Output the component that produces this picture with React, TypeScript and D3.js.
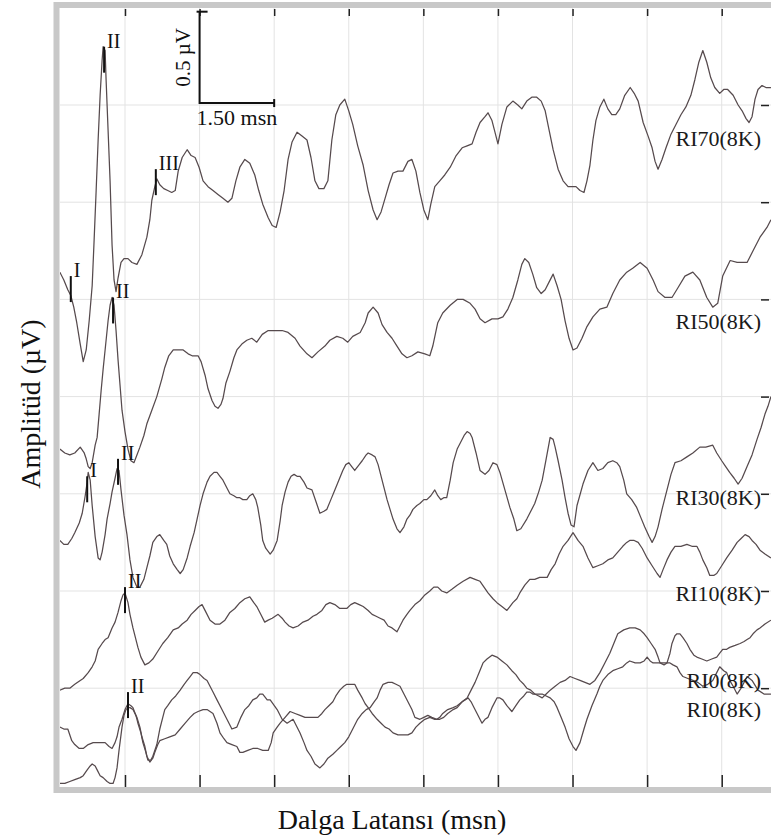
import React, { useEffect, useRef } from 'react'
import * as d3 from 'd3'

type Pt = [number, number] // [latency ms, amplitude µV]

// waveforms, stacked amplitude (µV)
const ri70: Pt[] = [
  [0.19, 2.64], [0.27, 2.6], [0.35, 2.55], [0.41, 2.52], [0.47, 2.46], [0.53, 2.38], [0.6, 2.27], [0.66, 2.18],
  [0.72, 2.24], [0.78, 2.39], [0.84, 2.57], [0.88, 2.81], [0.92, 3.06], [0.96, 3.32], [1.0, 3.55], [1.04, 3.73],
  [1.06, 3.8], [1.1, 3.78], [1.12, 3.63], [1.16, 3.37], [1.2, 3.11], [1.24, 2.78], [1.28, 2.6], [1.32, 2.54],
  [1.36, 2.61], [1.42, 2.69], [1.48, 2.71], [1.56, 2.71], [1.64, 2.69], [1.74, 2.68], [1.84, 2.73], [1.94, 2.82],
  [2.0, 2.91], [2.04, 3.01], [2.1, 3.08], [2.14, 3.12], [2.2, 3.09], [2.28, 3.07], [2.36, 3.06], [2.44, 3.05],
  [2.51, 3.06], [2.57, 3.16], [2.65, 3.23], [2.75, 3.27], [2.83, 3.24], [2.91, 3.23], [2.99, 3.18], [3.07, 3.11],
  [3.17, 3.08], [3.27, 3.06], [3.37, 3.04], [3.47, 3.02], [3.57, 3.0], [3.65, 3.02], [3.73, 3.11], [3.81, 3.18],
  [3.91, 3.22], [4.01, 3.2], [4.11, 3.14], [4.19, 3.06], [4.27, 2.99], [4.38, 2.92], [4.46, 2.88], [4.54, 2.87],
  [4.62, 2.95], [4.7, 3.06], [4.78, 3.22], [4.86, 3.31], [4.96, 3.36], [5.06, 3.34], [5.16, 3.32], [5.24, 3.23],
  [5.32, 3.11], [5.4, 3.07], [5.5, 3.07], [5.58, 3.11], [5.66, 3.32], [5.74, 3.45], [5.82, 3.5], [5.92, 3.53],
  [6.0, 3.47], [6.08, 3.4], [6.18, 3.29], [6.29, 3.19], [6.39, 3.06], [6.49, 2.96], [6.57, 2.91], [6.65, 2.95],
  [6.73, 3.02], [6.81, 3.09], [6.89, 3.15], [6.99, 3.16], [7.09, 3.16], [7.19, 3.21], [7.27, 3.22], [7.35, 3.16],
  [7.43, 3.05], [7.51, 2.96], [7.59, 2.91], [7.65, 2.99], [7.73, 3.08], [7.83, 3.11], [7.93, 3.14], [8.04, 3.18],
  [8.16, 3.24], [8.28, 3.28], [8.38, 3.29], [8.48, 3.3], [8.56, 3.36], [8.64, 3.41], [8.74, 3.44], [8.8, 3.46],
  [8.88, 3.42], [8.94, 3.36], [9.0, 3.3], [9.08, 3.4], [9.18, 3.49], [9.3, 3.52], [9.4, 3.5], [9.48, 3.48],
  [9.58, 3.52], [9.68, 3.54], [9.78, 3.54], [9.87, 3.52], [9.95, 3.47], [10.03, 3.37], [10.11, 3.27], [10.21, 3.17],
  [10.31, 3.11], [10.41, 3.08], [10.49, 3.08], [10.57, 3.08], [10.65, 3.06], [10.73, 3.05], [10.79, 3.11], [10.85, 3.19],
  [10.91, 3.32], [10.97, 3.42], [11.05, 3.49], [11.13, 3.53], [11.21, 3.48], [11.29, 3.45], [11.37, 3.45], [11.45, 3.48],
  [11.55, 3.55], [11.66, 3.59], [11.74, 3.56], [11.82, 3.52], [11.92, 3.41], [12.02, 3.34], [12.1, 3.28], [12.16, 3.21],
  [12.22, 3.17], [12.3, 3.22], [12.38, 3.28], [12.48, 3.35], [12.58, 3.4], [12.68, 3.45], [12.78, 3.49], [12.88, 3.55],
  [12.96, 3.63], [13.04, 3.72], [13.12, 3.78], [13.2, 3.72], [13.28, 3.64], [13.36, 3.59], [13.46, 3.56], [13.54, 3.58],
  [13.62, 3.58], [13.73, 3.55], [13.83, 3.5], [13.91, 3.47], [13.99, 3.43], [14.05, 3.41], [14.11, 3.44], [14.17, 3.53],
  [14.23, 3.58], [14.31, 3.6], [14.39, 3.59], [14.49, 3.59],
]

const ri50: Pt[] = [
  [0.19, 1.73], [0.29, 1.71], [0.39, 1.7], [0.49, 1.71], [0.6, 1.74], [0.68, 1.71], [0.72, 1.68], [0.76, 1.64],
  [0.8, 1.63], [0.84, 1.66], [0.9, 1.75], [0.94, 1.79], [0.98, 1.91], [1.02, 2.03], [1.06, 2.14], [1.1, 2.24],
  [1.16, 2.39], [1.2, 2.47], [1.24, 2.51], [1.28, 2.47], [1.32, 2.34], [1.36, 2.19], [1.4, 2.06], [1.44, 1.93],
  [1.5, 1.82], [1.56, 1.73], [1.62, 1.67], [1.68, 1.66], [1.74, 1.7], [1.8, 1.74], [1.88, 1.8], [1.94, 1.86],
  [2.04, 1.93], [2.14, 2.0], [2.24, 2.09], [2.3, 2.15], [2.38, 2.21], [2.47, 2.24], [2.57, 2.24], [2.67, 2.24],
  [2.77, 2.22], [2.85, 2.21], [2.97, 2.21], [3.03, 2.18], [3.11, 2.11], [3.17, 2.04], [3.25, 1.98], [3.31, 1.95],
  [3.37, 1.94], [3.43, 1.96], [3.47, 1.99], [3.53, 2.07], [3.61, 2.13], [3.69, 2.2], [3.75, 2.24], [3.85, 2.27],
  [3.95, 2.29], [4.05, 2.3], [4.15, 2.28], [4.26, 2.32], [4.38, 2.34], [4.52, 2.34], [4.66, 2.34], [4.78, 2.33],
  [4.92, 2.3], [5.02, 2.26], [5.16, 2.22], [5.26, 2.2], [5.38, 2.23], [5.52, 2.26], [5.62, 2.29], [5.76, 2.31],
  [5.88, 2.3], [5.98, 2.28], [6.08, 2.31], [6.23, 2.33], [6.33, 2.38], [6.39, 2.43], [6.49, 2.46], [6.59, 2.43],
  [6.67, 2.37], [6.77, 2.33], [6.87, 2.3], [6.97, 2.26], [7.07, 2.22], [7.17, 2.2], [7.27, 2.21], [7.39, 2.23],
  [7.53, 2.22], [7.63, 2.21], [7.69, 2.26], [7.79, 2.38], [7.89, 2.43], [8.04, 2.47], [8.18, 2.5], [8.3, 2.5],
  [8.44, 2.48], [8.54, 2.45], [8.64, 2.4], [8.74, 2.38], [8.88, 2.4], [9.0, 2.4], [9.1, 2.41], [9.2, 2.45],
  [9.3, 2.51], [9.4, 2.6], [9.48, 2.68], [9.54, 2.71], [9.62, 2.69], [9.7, 2.63], [9.78, 2.56], [9.87, 2.53],
  [9.95, 2.55], [10.03, 2.59], [10.11, 2.63], [10.19, 2.57], [10.27, 2.5], [10.35, 2.39], [10.43, 2.3], [10.51, 2.24],
  [10.59, 2.25], [10.69, 2.3], [10.79, 2.36], [10.91, 2.41], [11.05, 2.45], [11.19, 2.46], [11.31, 2.53], [11.45, 2.6],
  [11.59, 2.64], [11.71, 2.66], [11.86, 2.69], [12.0, 2.66], [12.12, 2.6], [12.22, 2.54], [12.36, 2.51], [12.5, 2.51],
  [12.62, 2.56], [12.76, 2.62], [12.92, 2.64], [13.06, 2.6], [13.2, 2.51], [13.32, 2.46], [13.42, 2.48], [13.52, 2.62],
  [13.67, 2.7], [13.81, 2.69], [14.01, 2.69], [14.13, 2.75], [14.27, 2.82], [14.41, 2.87], [14.49, 2.91],
]

const ri30: Pt[] = [
  [0.19, 1.26], [0.27, 1.24], [0.35, 1.24], [0.43, 1.27], [0.49, 1.3], [0.58, 1.35], [0.64, 1.4], [0.7, 1.49],
  [0.74, 1.56], [0.76, 1.61], [0.8, 1.57], [0.84, 1.44], [0.9, 1.28], [0.96, 1.17], [1.0, 1.16], [1.04, 1.2],
  [1.1, 1.29], [1.14, 1.37], [1.2, 1.45], [1.24, 1.51], [1.3, 1.58], [1.34, 1.63], [1.38, 1.62], [1.42, 1.52],
  [1.48, 1.39], [1.54, 1.29], [1.6, 1.16], [1.66, 1.07], [1.74, 1.02], [1.8, 1.02], [1.88, 1.06], [1.94, 1.12],
  [2.0, 1.18], [2.06, 1.25], [2.14, 1.28], [2.2, 1.29], [2.28, 1.26], [2.34, 1.24], [2.4, 1.18], [2.47, 1.14],
  [2.55, 1.11], [2.61, 1.09], [2.67, 1.11], [2.75, 1.17], [2.81, 1.23], [2.89, 1.3], [2.95, 1.37], [3.01, 1.44],
  [3.07, 1.5], [3.15, 1.56], [3.21, 1.59], [3.29, 1.61], [3.35, 1.61], [3.41, 1.59], [3.47, 1.57], [3.55, 1.53],
  [3.61, 1.5], [3.69, 1.49], [3.75, 1.48], [3.81, 1.48], [3.87, 1.47], [3.95, 1.47], [4.01, 1.49], [4.07, 1.5],
  [4.13, 1.47], [4.17, 1.43], [4.23, 1.34], [4.27, 1.26], [4.33, 1.22], [4.42, 1.19], [4.48, 1.21], [4.56, 1.26],
  [4.62, 1.36], [4.66, 1.44], [4.72, 1.51], [4.78, 1.56], [4.84, 1.59], [4.9, 1.6], [4.96, 1.59], [5.02, 1.59],
  [5.1, 1.56], [5.16, 1.53], [5.26, 1.52], [5.34, 1.46], [5.42, 1.4], [5.5, 1.41], [5.56, 1.42], [5.64, 1.47],
  [5.72, 1.52], [5.8, 1.57], [5.88, 1.62], [5.94, 1.65], [6.0, 1.66], [6.06, 1.64], [6.12, 1.62], [6.21, 1.65],
  [6.27, 1.67], [6.35, 1.7], [6.39, 1.71], [6.47, 1.7], [6.53, 1.69], [6.59, 1.65], [6.63, 1.61], [6.71, 1.53],
  [6.77, 1.47], [6.83, 1.42], [6.89, 1.37], [6.97, 1.32], [7.03, 1.3], [7.11, 1.33], [7.17, 1.37], [7.23, 1.39],
  [7.29, 1.42], [7.37, 1.44], [7.43, 1.45], [7.51, 1.47], [7.57, 1.47], [7.65, 1.49], [7.73, 1.52], [7.79, 1.49],
  [7.85, 1.47], [7.91, 1.48], [7.97, 1.48], [8.04, 1.57], [8.1, 1.66], [8.18, 1.73], [8.24, 1.76], [8.32, 1.8],
  [8.38, 1.82], [8.44, 1.81], [8.48, 1.79], [8.56, 1.71], [8.64, 1.62], [8.74, 1.6], [8.82, 1.62], [8.9, 1.66],
  [8.98, 1.65], [9.04, 1.61], [9.14, 1.52], [9.24, 1.43], [9.32, 1.37], [9.38, 1.31], [9.46, 1.32], [9.58, 1.37],
  [9.66, 1.41], [9.74, 1.45], [9.82, 1.51], [9.89, 1.57], [9.97, 1.68], [10.05, 1.79], [10.11, 1.78], [10.15, 1.74],
  [10.21, 1.67], [10.29, 1.57], [10.35, 1.48], [10.41, 1.4], [10.47, 1.34], [10.53, 1.33], [10.59, 1.44], [10.71, 1.55],
  [10.81, 1.62], [10.91, 1.66], [11.01, 1.62], [11.11, 1.63], [11.21, 1.66], [11.31, 1.67], [11.39, 1.66], [11.45, 1.64],
  [11.53, 1.57], [11.59, 1.5], [11.69, 1.47], [11.79, 1.43], [11.87, 1.38], [11.95, 1.33], [12.04, 1.28], [12.1, 1.25],
  [12.16, 1.28], [12.22, 1.33], [12.3, 1.42], [12.4, 1.52], [12.48, 1.6], [12.56, 1.66], [12.68, 1.67], [12.8, 1.69],
  [12.92, 1.71], [13.06, 1.74], [13.18, 1.74], [13.32, 1.75], [13.4, 1.71], [13.5, 1.67], [13.58, 1.64], [13.66, 1.61],
  [13.75, 1.58], [13.83, 1.55], [13.91, 1.58], [14.01, 1.64], [14.11, 1.7], [14.21, 1.78], [14.29, 1.84], [14.37, 1.91],
  [14.43, 1.95], [14.49, 2.0],
]

const ri10: Pt[] = [
  [0.19, 0.49], [0.29, 0.5], [0.39, 0.5], [0.49, 0.52], [0.6, 0.54], [0.66, 0.55], [0.76, 0.58], [0.84, 0.61],
  [0.9, 0.64], [0.96, 0.7], [1.04, 0.73], [1.1, 0.75], [1.16, 0.76], [1.24, 0.81], [1.3, 0.84], [1.36, 0.89],
  [1.42, 0.95], [1.46, 0.98], [1.5, 0.99], [1.56, 0.94], [1.6, 0.88], [1.66, 0.81], [1.72, 0.75], [1.76, 0.71],
  [1.82, 0.66], [1.9, 0.62], [1.98, 0.63], [2.06, 0.65], [2.16, 0.69], [2.26, 0.73], [2.36, 0.76], [2.47, 0.8],
  [2.57, 0.81], [2.65, 0.83], [2.75, 0.85], [2.83, 0.88], [2.91, 0.9], [2.99, 0.92], [3.05, 0.93], [3.13, 0.89],
  [3.21, 0.85], [3.31, 0.83], [3.41, 0.83], [3.51, 0.85], [3.61, 0.89], [3.71, 0.91], [3.81, 0.94], [3.91, 0.96],
  [4.01, 0.97], [4.09, 0.94], [4.15, 0.92], [4.23, 0.88], [4.31, 0.84], [4.38, 0.85], [4.46, 0.86], [4.58, 0.88],
  [4.66, 0.86], [4.72, 0.84], [4.8, 0.82], [4.88, 0.81], [4.98, 0.82], [5.08, 0.84], [5.18, 0.85], [5.28, 0.87],
  [5.36, 0.88], [5.46, 0.9], [5.54, 0.93], [5.62, 0.94], [5.72, 0.93], [5.82, 0.91], [5.96, 0.91], [6.04, 0.93],
  [6.12, 0.94], [6.21, 0.93], [6.29, 0.92], [6.39, 0.9], [6.47, 0.88], [6.55, 0.87], [6.63, 0.86], [6.71, 0.85],
  [6.79, 0.82], [6.87, 0.81], [6.97, 0.79], [7.03, 0.82], [7.09, 0.85], [7.17, 0.88], [7.23, 0.9], [7.33, 0.93],
  [7.43, 0.95], [7.53, 0.98], [7.63, 1.0], [7.71, 1.02], [7.79, 1.02], [7.87, 1.0], [7.97, 0.99], [8.08, 1.01],
  [8.18, 1.03], [8.3, 1.05], [8.44, 1.07], [8.54, 1.06], [8.64, 1.05], [8.72, 1.02], [8.8, 0.99], [8.9, 0.96],
  [8.98, 0.94], [9.08, 0.92], [9.18, 0.9], [9.24, 0.92], [9.3, 0.94], [9.38, 0.96], [9.44, 0.99], [9.54, 1.03],
  [9.64, 1.06], [9.74, 1.06], [9.84, 1.07], [9.99, 1.07], [10.07, 1.11], [10.15, 1.14], [10.23, 1.19], [10.31, 1.23],
  [10.41, 1.26], [10.51, 1.3], [10.61, 1.26], [10.71, 1.23], [10.81, 1.17], [10.91, 1.12], [11.01, 1.13], [11.11, 1.14],
  [11.21, 1.16], [11.31, 1.17], [11.41, 1.2], [11.51, 1.23], [11.59, 1.25], [11.65, 1.26], [11.74, 1.26], [11.82, 1.25],
  [11.9, 1.22], [12.0, 1.17], [12.1, 1.13], [12.2, 1.09], [12.26, 1.07], [12.32, 1.11], [12.4, 1.16], [12.48, 1.2],
  [12.56, 1.23], [12.68, 1.23], [12.8, 1.24], [12.9, 1.23], [13.0, 1.23], [13.06, 1.2], [13.12, 1.16], [13.2, 1.12],
  [13.26, 1.08], [13.34, 1.08], [13.4, 1.09], [13.5, 1.13], [13.6, 1.17], [13.71, 1.21], [13.81, 1.25], [13.89, 1.27],
  [13.97, 1.29], [14.05, 1.28], [14.11, 1.26], [14.19, 1.24], [14.27, 1.21], [14.37, 1.19], [14.49, 1.17],
]

const ri0a: Pt[] = [
  [0.19, 0.3], [0.27, 0.29], [0.35, 0.29], [0.43, 0.23], [0.49, 0.21], [0.58, 0.19], [0.66, 0.19], [0.76, 0.21],
  [0.86, 0.22], [0.94, 0.22], [1.0, 0.22], [1.1, 0.22], [1.18, 0.2], [1.24, 0.19], [1.3, 0.22], [1.34, 0.25],
  [1.38, 0.3], [1.44, 0.34], [1.5, 0.39], [1.56, 0.42], [1.62, 0.41], [1.66, 0.4], [1.72, 0.36], [1.76, 0.32],
  [1.82, 0.27], [1.86, 0.22], [1.92, 0.17], [1.96, 0.13], [2.02, 0.13], [2.06, 0.15], [2.14, 0.21], [2.2, 0.29],
  [2.26, 0.35], [2.3, 0.39], [2.36, 0.41], [2.44, 0.44], [2.52, 0.46], [2.61, 0.49], [2.69, 0.52], [2.75, 0.54],
  [2.81, 0.56], [2.87, 0.58], [2.95, 0.58], [3.01, 0.57], [3.09, 0.55], [3.15, 0.54], [3.21, 0.51], [3.27, 0.48],
  [3.35, 0.44], [3.45, 0.39], [3.55, 0.34], [3.65, 0.29], [3.75, 0.3], [3.83, 0.35], [3.91, 0.39], [3.99, 0.41],
  [4.07, 0.44], [4.15, 0.45], [4.21, 0.47], [4.27, 0.47], [4.36, 0.44], [4.42, 0.44], [4.56, 0.39], [4.66, 0.34],
  [4.76, 0.32], [4.88, 0.34], [5.02, 0.27], [5.1, 0.22], [5.16, 0.18], [5.24, 0.15], [5.32, 0.11], [5.42, 0.09],
  [5.5, 0.11], [5.58, 0.14], [5.68, 0.16], [5.76, 0.18], [5.84, 0.2], [5.92, 0.22], [6.0, 0.25], [6.08, 0.29],
  [6.18, 0.34], [6.27, 0.37], [6.35, 0.39], [6.43, 0.4], [6.51, 0.43], [6.57, 0.45], [6.63, 0.49], [6.69, 0.52],
  [6.79, 0.53], [6.87, 0.53], [6.95, 0.52], [7.03, 0.51], [7.11, 0.47], [7.19, 0.43], [7.27, 0.39], [7.33, 0.35],
  [7.43, 0.34], [7.51, 0.35], [7.59, 0.36], [7.67, 0.35], [7.77, 0.34], [7.83, 0.35], [7.89, 0.37], [7.99, 0.39],
  [8.1, 0.4], [8.18, 0.41], [8.28, 0.43], [8.34, 0.44], [8.4, 0.45], [8.46, 0.43], [8.5, 0.41], [8.58, 0.37],
  [8.68, 0.32], [8.74, 0.34], [8.8, 0.35], [8.88, 0.4], [8.98, 0.45], [9.04, 0.45], [9.1, 0.44], [9.18, 0.41],
  [9.28, 0.38], [9.36, 0.41], [9.44, 0.44], [9.52, 0.46], [9.58, 0.48], [9.64, 0.48], [9.7, 0.47], [9.8, 0.47],
  [9.89, 0.47], [9.97, 0.46], [10.05, 0.45], [10.13, 0.43], [10.19, 0.4], [10.27, 0.35], [10.35, 0.3], [10.43, 0.24],
  [10.51, 0.2], [10.57, 0.18], [10.65, 0.22], [10.73, 0.29], [10.79, 0.34], [10.89, 0.41], [10.99, 0.47], [11.05, 0.51],
  [11.11, 0.54], [11.21, 0.57], [11.31, 0.59], [11.41, 0.6], [11.51, 0.61], [11.59, 0.63], [11.65, 0.64], [11.76, 0.63],
  [11.86, 0.63], [11.94, 0.64], [12.0, 0.66], [12.06, 0.64], [12.12, 0.63], [12.2, 0.63], [12.26, 0.63], [12.36, 0.63],
  [12.46, 0.63], [12.52, 0.62], [12.6, 0.61], [12.66, 0.58], [12.72, 0.56], [12.82, 0.55], [12.92, 0.54], [13.02, 0.53],
  [13.12, 0.51], [13.22, 0.52], [13.32, 0.54], [13.4, 0.58], [13.46, 0.61], [13.54, 0.59], [13.6, 0.58], [13.66, 0.54],
  [13.73, 0.51], [13.81, 0.47], [13.89, 0.5], [14.01, 0.56], [14.11, 0.54], [14.23, 0.49], [14.35, 0.47], [14.49, 0.47],
]

const ri0b: Pt[] = [
  [0.19, 0.01], [0.29, 0.01], [0.39, 0.02], [0.49, 0.03], [0.6, 0.04], [0.66, 0.05], [0.74, 0.08], [0.8, 0.1],
  [0.84, 0.11], [0.9, 0.1], [0.94, 0.08], [1.0, 0.05], [1.06, 0.04], [1.14, 0.02], [1.2, 0.01], [1.26, 0.01],
  [1.3, 0.04], [1.34, 0.09], [1.38, 0.18], [1.42, 0.26], [1.44, 0.3], [1.48, 0.36], [1.52, 0.39], [1.56, 0.4],
  [1.6, 0.4], [1.66, 0.39], [1.74, 0.35], [1.8, 0.3], [1.84, 0.25], [1.9, 0.2], [1.94, 0.15], [2.0, 0.12],
  [2.06, 0.14], [2.1, 0.17], [2.16, 0.21], [2.2, 0.23], [2.3, 0.24], [2.4, 0.25], [2.51, 0.26], [2.61, 0.29],
  [2.71, 0.32], [2.81, 0.35], [2.89, 0.37], [2.97, 0.38], [3.07, 0.39], [3.15, 0.39], [3.21, 0.38], [3.27, 0.37],
  [3.35, 0.32], [3.41, 0.27], [3.49, 0.24], [3.55, 0.22], [3.65, 0.21], [3.75, 0.2], [3.81, 0.17], [3.87, 0.17],
  [3.97, 0.18], [4.07, 0.19], [4.17, 0.19], [4.27, 0.18], [4.38, 0.18], [4.44, 0.22], [4.48, 0.27], [4.56, 0.3],
  [4.62, 0.32], [4.72, 0.35], [4.82, 0.38], [4.92, 0.37], [5.02, 0.36], [5.12, 0.35], [5.22, 0.35], [5.38, 0.35],
  [5.46, 0.37], [5.52, 0.39], [5.6, 0.41], [5.68, 0.43], [5.74, 0.46], [5.82, 0.49], [5.9, 0.51], [5.96, 0.52],
  [6.04, 0.52], [6.12, 0.52], [6.18, 0.49], [6.27, 0.45], [6.33, 0.42], [6.39, 0.4], [6.47, 0.37], [6.57, 0.34],
  [6.65, 0.32], [6.73, 0.3], [6.81, 0.29], [6.89, 0.27], [6.99, 0.26], [7.09, 0.26], [7.19, 0.26], [7.27, 0.27],
  [7.35, 0.3], [7.43, 0.32], [7.53, 0.34], [7.63, 0.35], [7.73, 0.34], [7.83, 0.34], [7.91, 0.35], [7.99, 0.37],
  [8.1, 0.39], [8.18, 0.4], [8.28, 0.43], [8.38, 0.45], [8.46, 0.49], [8.54, 0.53], [8.62, 0.58], [8.7, 0.63],
  [8.78, 0.65], [8.88, 0.67], [8.98, 0.66], [9.08, 0.64], [9.18, 0.62], [9.28, 0.59], [9.36, 0.57], [9.44, 0.54],
  [9.52, 0.52], [9.58, 0.5], [9.66, 0.49], [9.74, 0.47], [9.82, 0.46], [9.89, 0.45], [9.97, 0.47], [10.05, 0.49],
  [10.15, 0.51], [10.25, 0.53], [10.35, 0.54], [10.45, 0.56], [10.55, 0.55], [10.65, 0.54], [10.75, 0.53], [10.85, 0.52],
  [10.95, 0.54], [11.05, 0.58], [11.15, 0.63], [11.25, 0.68], [11.33, 0.73], [11.41, 0.78], [11.53, 0.8], [11.65, 0.81],
  [11.76, 0.81], [11.86, 0.8], [11.94, 0.78], [12.0, 0.76], [12.08, 0.73], [12.16, 0.7], [12.22, 0.66], [12.26, 0.63],
  [12.34, 0.62], [12.4, 0.63], [12.46, 0.68], [12.5, 0.73], [12.56, 0.77], [12.6, 0.78], [12.66, 0.78], [12.72, 0.76],
  [12.8, 0.73], [12.86, 0.7], [12.94, 0.67], [13.0, 0.66], [13.1, 0.65], [13.2, 0.64], [13.3, 0.65], [13.4, 0.66],
  [13.46, 0.68], [13.52, 0.7], [13.6, 0.7], [13.66, 0.71], [13.77, 0.72], [13.87, 0.73], [13.95, 0.74], [14.01, 0.75],
  [14.07, 0.76], [14.13, 0.78], [14.21, 0.8], [14.27, 0.81], [14.37, 0.83], [14.49, 0.85],
]

const waves = [ri70, ri50, ri30, ri10, ri0a, ri0b]
const waveNames = ['RI70(8K)', 'RI50(8K)', 'RI30(8K)', 'RI10(8K)', 'RI0(8K)', 'RI0(8K)']
// amplitude level of each name tag at the right
const nameLevels = [3.29, 2.35, 1.44, 0.95, 0.5, 0.35]

// peak picks: label, latency (ms), amplitude at the top of the mark (µV)
const peakLabels = ['I', 'II', 'III', 'II', 'I', 'II', 'II', 'II']
const peakTimes = [0.41, 1.08, 2.12, 1.26, 0.74, 1.36, 1.5, 1.56]
const peakAmps = [2.62, 3.8, 3.17, 2.51, 1.59, 1.68, 1.02, 0.48]

const timeTicks = [1.5, 3, 4.5, 6, 7.5, 9, 10.5, 12, 13.5]
const ampTicks = [0.5, 1, 1.5, 2, 2.5, 3, 3.5]

const width = 771
const height = 839
const serif = '"Liberation Serif", "Times New Roman", serif'

const App: React.FC = () => {
  const svgRef = useRef<SVGSVGElement>(null)

  useEffect(() => {
    if (!svgRef.current) return
    const svg = d3.select(svgRef.current)
    svg.selectAll('*').remove()

    const plot = { left: 60, right: 771, top: 8, bottom: 787 }

    const x = d3.scaleLinear().domain([0, 15]).range([50.4, 796.3])
    const y = d3.scaleLinear().domain([0, 4]).range([785.4, 7.8])

    svg.append('rect').attr('width', width).attr('height', height).attr('fill', '#ffffff')

    svg
      .append('defs')
      .append('clipPath')
      .attr('id', 'plot-clip')
      .append('rect')
      .attr('x', plot.left)
      .attr('y', plot.top)
      .attr('width', plot.right - plot.left)
      .attr('height', plot.bottom - plot.top)

    // light grid
    svg
      .selectAll('.vgrid')
      .data(timeTicks)
      .enter()
      .append('line')
      .attr('class', 'vgrid')
      .attr('x1', (d) => x(d))
      .attr('x2', (d) => x(d))
      .attr('y1', plot.top)
      .attr('y2', plot.bottom)
      .attr('stroke', '#e3e3e3')
    svg
      .selectAll('.hgrid')
      .data(ampTicks)
      .enter()
      .append('line')
      .attr('class', 'hgrid')
      .attr('x1', plot.left)
      .attr('x2', plot.right)
      .attr('y1', (d) => y(d))
      .attr('y2', (d) => y(d))
      .attr('stroke', '#e3e3e3')

    // tick marks only, no labels
    const styleAxis = (g: d3.Selection<SVGGElement, unknown, null, undefined>) => {
      g.select('.domain').remove()
      g.selectAll('.tick line').attr('stroke', '#222').attr('stroke-width', 1.5)
      g.selectAll('.tick text').remove()
    }
    svg
      .append('g')
      .attr('transform', `translate(0, ${plot.bottom})`)
      .call(d3.axisBottom(x).tickValues(timeTicks).tickSize(-12).tickFormat(() => ''))
      .call(styleAxis)
    svg
      .append('g')
      .attr('transform', `translate(0, ${plot.top + 1})`)
      .call(d3.axisTop(x).tickValues(timeTicks).tickSize(-7).tickFormat(() => ''))
      .call(styleAxis)
    svg
      .append('g')
      .attr('transform', `translate(769, 0)`)
      .call(d3.axisRight(y).tickValues(ampTicks).tickSize(-8).tickFormat(() => ''))
      .call(styleAxis)

    // waveforms
    const line = d3
      .line<Pt>()
      .x((d) => x(d[0]))
      .y((d) => y(d[1]))
    svg
      .append('g')
      .attr('clip-path', 'url(#plot-clip)')
      .selectAll('.wave')
      .data(waves)
      .enter()
      .append('path')
      .attr('class', 'wave')
      .attr('d', (d) => line(d))
      .attr('fill', 'none')
      .attr('stroke', '#564a4d')
      .attr('stroke-width', 1.25)
      .attr('stroke-linejoin', 'round')

    // peak marks
    const peaks = peakLabels.map((label, i) => ({ label, t: peakTimes[i], v: peakAmps[i] }))
    svg
      .selectAll('.peak')
      .data(peaks)
      .enter()
      .append('line')
      .attr('class', 'peak')
      .attr('x1', (d) => x(d.t))
      .attr('x2', (d) => x(d.t))
      .attr('y1', (d) => y(d.v))
      .attr('y2', (d) => y(d.v) + 26)
      .attr('stroke', '#111')
      .attr('stroke-width', 2)
    svg
      .selectAll('.peak-label')
      .data(peaks)
      .enter()
      .append('text')
      .attr('class', 'peak-label')
      .attr('x', (d) => x(d.t) + 3)
      .attr('y', (d) => y(d.v) + 1)
      .style('font-family', serif)
      .style('font-size', '20px')
      .attr('fill', '#111')
      .text((d) => d.label)

    // wave names
    svg
      .selectAll('.wave-name')
      .data(waveNames)
      .enter()
      .append('text')
      .attr('class', 'wave-name')
      .attr('x', 761)
      .attr('y', (d, i) => y(nameLevels[i]))
      .attr('text-anchor', 'end')
      .style('font-family', serif)
      .style('font-size', '22px')
      .attr('fill', '#1a1a1a')
      .text((d) => d)

    // calibration bar: 1.50 ms x 0.5 µV
    const bx = x(3)
    const by = y(3.51)
    const bar = svg.append('g').attr('stroke', '#111').attr('stroke-width', 2).attr('fill', 'none')
    bar.append('path').attr('d', `M${bx},${y(3.98)}V${by}H${x(4.5)}`)
    bar.append('path').attr('d', `M${bx - 3},${y(3.98)}H${bx + 8}`)
    bar.append('path').attr('d', `M${x(4.5)},${by - 4}V${by + 4}`)
    svg
      .append('text')
      .attr('x', bx - 3)
      .attr('y', by + 22)
      .style('font-family', serif)
      .style('font-size', '22px')
      .attr('fill', '#111')
      .text('1.50 msn')
    svg
      .append('text')
      .attr('transform', `translate(${bx - 10}, ${(y(3.98) + by) / 2}) rotate(-90)`)
      .attr('text-anchor', 'middle')
      .style('font-family', serif)
      .style('font-size', '21px')
      .attr('fill', '#111')
      .text('0.5 µV')

    // frame
    svg
      .append('rect')
      .attr('x', 56.5)
      .attr('y', 5)
      .attr('width', 730)
      .attr('height', 785)
      .attr('fill', 'none')
      .attr('stroke', '#c8c8c8')
      .attr('stroke-width', 6)

    // axis titles
    svg
      .append('text')
      .attr('x', 392)
      .attr('y', 829)
      .attr('text-anchor', 'middle')
      .style('font-family', serif)
      .style('font-size', '28px')
      .attr('fill', '#111')
      .text('Dalga Latansı (msn)')
    svg
      .append('text')
      .attr('transform', 'translate(40, 404) rotate(-90)')
      .attr('text-anchor', 'middle')
      .style('font-family', serif)
      .style('font-size', '28px')
      .attr('fill', '#111')
      .text('Amplitüd (µV)')
  }, [])

  return (
    <svg
      ref={svgRef}
      width={width}
      height={height}
      style={{ position: 'absolute', left: 0, top: 0, display: 'block' }}
    ></svg>
  )
}

export default App
